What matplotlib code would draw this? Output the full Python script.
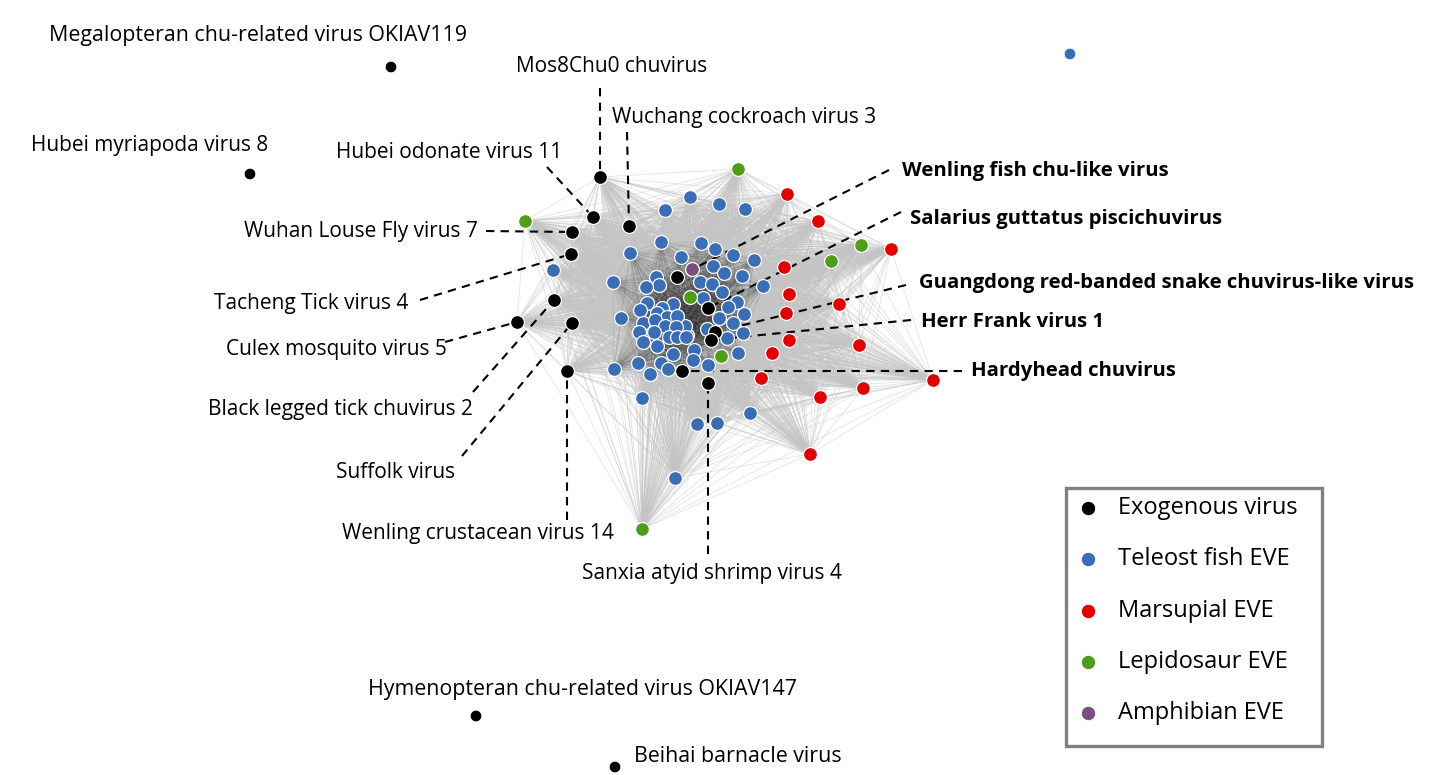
import numpy as np
import matplotlib
matplotlib.use("Agg")
import matplotlib.pyplot as plt
from matplotlib.collections import LineCollection
from matplotlib.patches import Rectangle

plt.rcParams['font.family'] = ['Open Sans', 'DejaVu Sans']

# ---------------- data ----------------
group_names = ["Exogenous virus", "Teleost fish EVE", "Marsupial EVE",
               "Lepidosaur EVE", "Amphibian EVE"]
group_colors = ["#000000", "#3a6db3", "#e00000", "#4f9e1a", "#7b4f80"]

# isolated nodes (no edges)
iso_x = [391, 250, 476, 615, 1070]
iso_y = [67, 174, 716, 767, 54]
iso_g = [0, 0, 0, 0, 1]

# exogenous viruses inside the network
exo_x = [600, 593, 629, 572, 571, 554, 517, 572, 567, 682, 708, 677, 708, 715, 711]
exo_y = [177, 217, 226, 232, 254, 300, 322, 323, 371, 371, 383, 277, 308, 332, 340]

# teleost fish EVEs
fish_x = [665, 690, 719, 745, 661, 630, 681, 701, 715, 733, 754, 713, 724, 742, 763,
          553, 613, 656, 659, 646, 700, 712, 722, 703, 737, 728, 744, 719, 733, 707,
          743, 727, 687, 685, 673, 662, 647, 640, 621, 643, 657, 667, 677, 655, 665,
          676, 639, 654, 669, 677, 686, 643, 657, 673, 694, 693, 708, 738, 638, 661,
          668, 650, 614, 642, 697, 717, 750, 675]
fish_y = [210, 197, 204, 209, 242, 253, 257, 243, 249, 255, 260, 266, 273, 276, 286,
          270, 282, 277, 285, 287, 282, 284, 292, 298, 302, 307, 314, 318, 323, 329,
          333, 338, 335, 326, 304, 308, 303, 310, 318, 323, 313, 317, 316, 320, 326,
          327, 332, 332, 337, 337, 337, 342, 346, 354, 350, 360, 365, 353, 363, 363,
          369, 374, 369, 398, 424, 423, 413, 478]

# marsupial EVEs
mars_x = [787, 818, 891, 784, 789, 839, 786, 789, 859, 772, 761, 933, 863, 820, 810]
mars_y = [194, 221, 249, 267, 294, 304, 313, 340, 345, 353, 378, 380, 388, 397, 454]

# lepidosaur EVEs
lep_x = [738, 525, 861, 831, 690, 721, 642]
lep_y = [169, 221, 245, 261, 297, 356, 529]

# amphibian EVE
amph_x = [692]
amph_y = [269]

# labelled exogenous viruses (index = position in exo arrays)
lab_text = ["Mos8Chu0 chuvirus", "Hubei odonate virus 11", "Wuchang cockroach virus 3",
            "Wuhan Louse Fly virus 7", "Tacheng Tick virus 4", "Black legged tick chuvirus 2",
            "Culex mosquito virus 5", "Suffolk virus", "Wenling crustacean virus 14",
            "Hardyhead chuvirus", "Sanxia atyid shrimp virus 4", "Wenling fish chu-like virus",
            "Salarius guttatus piscichuvirus", "Guangdong red-banded snake chuvirus-like virus",
            "Herr Frank virus 1"]
lab_bold = [False] * 9 + [True, False, True, True, True, True]

iso_text = ["Megalopteran chu-related virus OKIAV119", "Hubei myriapoda virus 8",
            "Hymenopteran chu-related virus OKIAV147", "Beihai barnacle virus"]

# ---------------- layout (pixels) ----------------
lab_pos = [(612, 66, 'center'), (449, 153, 'center'), (612, 118, 'left'),
           (478, 231, 'right'), (408, 303, 'right'), (473, 409, 'right'),
           (447, 349, 'right'), (455, 473, 'right'), (614, 534, 'right'),
           (971, 371, 'left'), (712, 574, 'center'), (902, 171, 'left'),
           (910, 219, 'left'), (919, 283, 'left'), (921, 322, 'left')]
lead_start = [(600, 88), (547, 167), (627, 132), (486, 231), (420, 300), (473, 392),
              (445, 342), (462, 456), (567, 520), (962, 371), (708, 554), (889, 170),
              (901, 212), (906, 285), (911, 320)]
iso_lab_pos = [(258, 35, 'center'), (150, 146, 'center'), (583, 690, 'center'),
               (634, 756, 'left')]
# dense core box (for darker edge layer)
core_box = (612, 770, 238, 382)

W, H = 1449, 775
fig = plt.figure(figsize=(W / 100, H / 100), dpi=100)
ax = fig.add_axes([0, 0, 1, 1])
ax.set_xlim(0, W)
ax.set_ylim(H, 0)
ax.axis('off')

# network nodes (connected component)
net_x = exo_x + fish_x + mars_x + lep_x + amph_x
net_y = exo_y + fish_y + mars_y + lep_y + amph_y
net_g = np.array([0] * len(exo_x) + [1] * len(fish_x) + [2] * len(mars_x)
                 + [3] * len(lep_x) + [4] * len(amph_x))
pts = np.column_stack([net_x, net_y]).astype(float)
n = len(pts)
ii, jj = np.triu_indices(n, 1)
segs = np.stack([pts[ii], pts[jj]], axis=1)
ax.add_collection(LineCollection(segs, colors='#c4c4c4', linewidths=0.55, alpha=0.5, zorder=1))

x0, x1, y0, y1 = core_box
core = ((pts[:, 0] > x0) & (pts[:, 0] < x1) & (pts[:, 1] > y0) & (pts[:, 1] < y1)
        & ((net_g == 1) | (net_g == 0)))
cm = core[ii] & core[jj]
ax.add_collection(LineCollection(segs[cm], colors='#202020', linewidths=0.5, alpha=0.1,
                                 zorder=1.5))

# leader lines
for k in range(len(lab_text)):
    sx, sy = lead_start[k]
    ax.plot([sx, exo_x[k]], [sy, exo_y[k]], color='black', lw=1.5,
            ls=(0, (4.0, 3.0)), zorder=2)

# nodes
for g in range(5):
    m = net_g == g
    ax.scatter(pts[m, 0], pts[m, 1], s=100, c=group_colors[g], edgecolors='white',
               linewidths=0.9, zorder=3 + (g == 0))
ax.scatter(iso_x, iso_y, s=70, c=[group_colors[g] for g in iso_g], edgecolors='white',
           linewidths=0.6, zorder=3)

# labels
fs = 15
for k, t in enumerate(lab_text):
    x, y, ha = lab_pos[k]
    ax.text(x, y, t, fontsize=fs if not lab_bold[k] else 14.7, ha=ha, va='center',
            fontweight='bold' if lab_bold[k] else 'normal', zorder=5)
for k, t in enumerate(iso_text):
    x, y, ha = iso_lab_pos[k]
    ax.text(x, y, t, fontsize=15.4 if k != 1 else fs, ha=ha, va='center', zorder=5)

# legend (drawn in pixel coordinates)
ax.add_patch(Rectangle((1066, 488), 256, 258, fill=False, edgecolor='#808080',
                       linewidth=2.4, zorder=6))
for k in range(5):
    yy = 508 + 51.3 * k
    ax.scatter([1088], [yy], s=110, c=group_colors[k], edgecolors='white',
               linewidths=0.8, zorder=7)
    ax.text(1118, yy, group_names[k], fontsize=17, ha='left', va='center', zorder=7)

fig.savefig('out.png', dpi=100)
